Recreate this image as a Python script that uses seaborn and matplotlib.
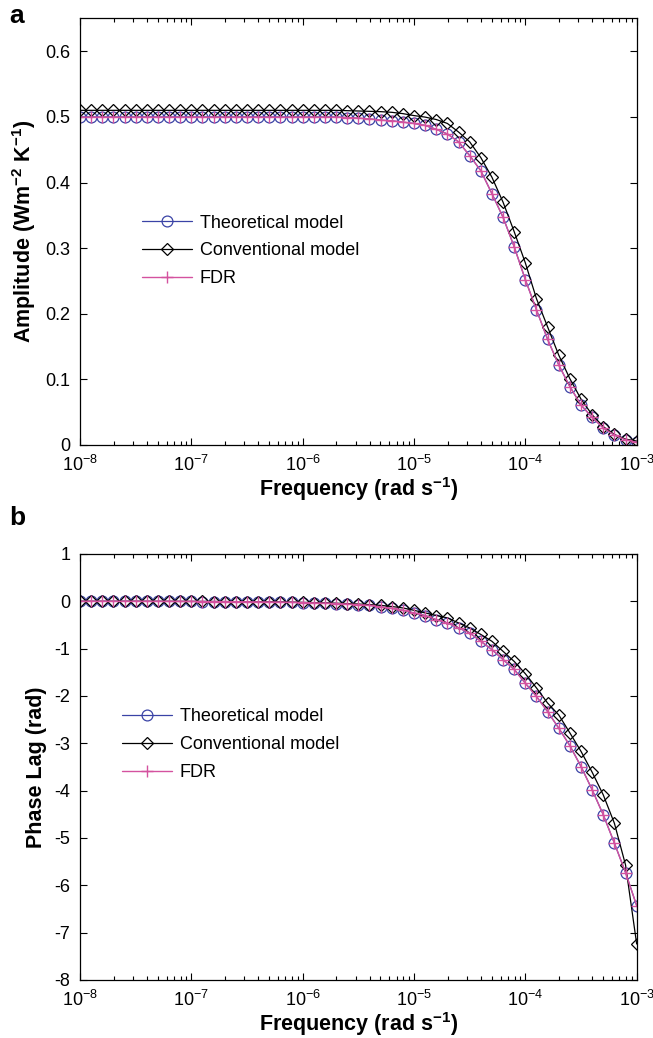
import numpy as np
import pandas as pd
import matplotlib
matplotlib.use("Agg")
import matplotlib.pyplot as plt
from matplotlib.ticker import LogLocator, FixedLocator, FixedFormatter, NullFormatter
import seaborn as sns

# ---------------- data ----------------
freq = np.logspace(-8, -3, 51)  # rad s^-1, 10 points per decade

amp_theoretical = [0.5] * 24 + [
    0.499, 0.498, 0.497, 0.495, 0.494, 0.492, 0.490, 0.487, 0.481, 0.474,
    0.462, 0.441, 0.418, 0.383, 0.347, 0.302, 0.252, 0.206, 0.161, 0.122,
    0.089, 0.061, 0.042, 0.026, 0.015, 0.008, 0.004]
amp_conventional = [0.51] * 24 + [
    0.5095, 0.509, 0.5085, 0.508, 0.507, 0.505, 0.502, 0.4997, 0.496, 0.490,
    0.477, 0.462, 0.438, 0.408, 0.370, 0.325, 0.2775, 0.223, 0.180, 0.137,
    0.101, 0.070, 0.046, 0.028, 0.016, 0.009, 0.006]
amp_fdr = [0.4995] * 24 + [
    0.499, 0.498, 0.497, 0.495, 0.494, 0.492, 0.490, 0.487, 0.481, 0.474,
    0.462, 0.441, 0.418, 0.383, 0.347, 0.302, 0.252, 0.206, 0.161, 0.122,
    0.089, 0.061, 0.042, 0.026, 0.015, 0.008, 0.004]

phase_theoretical = [0.0] * 6 + [
    -0.001, -0.001, -0.002, -0.002, -0.003,
    -0.004, -0.005, -0.006, -0.008, -0.010, -0.012, -0.015, -0.018, -0.022, -0.027,
    -0.033, -0.040, -0.048, -0.058, -0.070, -0.086, -0.12, -0.15, -0.19, -0.245,
    -0.300, -0.387, -0.457, -0.563, -0.668, -0.845, -1.02, -1.23, -1.44, -1.73,
    -2.01, -2.33, -2.68, -3.05, -3.49, -3.98, -4.51, -5.11, -5.73, -6.43]
phase_conventional = [0.0] * 6 + [
    -0.001, -0.001, -0.001, -0.002, -0.002,
    -0.003, -0.004, -0.005, -0.006, -0.008, -0.010, -0.012, -0.015, -0.018, -0.022,
    -0.027, -0.033, -0.040, -0.048, -0.058, -0.070, -0.085, -0.110, -0.14, -0.19,
    -0.245, -0.30, -0.35, -0.457, -0.563, -0.70, -0.845, -1.057, -1.27, -1.53,
    -1.83, -2.15, -2.40, -2.78, -3.17, -3.61, -4.09, -4.69, -5.57, -7.24]
phase_fdr = list(phase_theoretical)

series_labels = ["Theoretical model", "Conventional model", "FDR"]
amp_yticks = [0, 0.1, 0.2, 0.3, 0.4, 0.5, 0.6]
amp_yticklabels = ["0", "0.1", "0.2", "0.3", "0.4", "0.5", "0.6"]
phase_yticks = [1, 0, -1, -2, -3, -4, -5, -6, -7, -8]
phase_yticklabels = ["1", "0", "-1", "-2", "-3", "-4", "-5", "-6", "-7", "-8"]
x_ticks = [1e-8, 1e-7, 1e-6, 1e-5, 1e-4, 1e-3]
x_ticklabels = [r"$10^{-8}$", r"$10^{-7}$", r"$10^{-6}$", r"$10^{-5}$", r"$10^{-4}$", r"$10^{-3}$"]

for s in (amp_theoretical, amp_conventional, amp_fdr, phase_theoretical, phase_conventional, phase_fdr):
    assert len(s) == 51

# ---------------- style ----------------
sns.set_style("ticks")
plt.rcParams["font.family"] = ["Liberation Sans", "DejaVu Sans"]
plt.rcParams["mathtext.fontset"] = "custom"
plt.rcParams["mathtext.rm"] = "Liberation Sans"
plt.rcParams["mathtext.it"] = "Liberation Sans:italic"
plt.rcParams["mathtext.bf"] = "Liberation Sans:bold"
plt.rcParams["axes.unicode_minus"] = False
plt.rcParams["text.color"] = "black"
plt.rcParams["axes.labelcolor"] = "black"
plt.rcParams["xtick.color"] = "black"
plt.rcParams["ytick.color"] = "black"

col_theo = "#3a43a6"
col_conv = "#000000"
col_fdr = "#d4529f"

styles = [
    dict(color=col_theo, marker="o", markersize=7.8, markerfacecolor="none",
         markeredgecolor=col_theo, markeredgewidth=0.9, linewidth=0.9),
    dict(color=col_conv, marker="D", markersize=6.0, markerfacecolor="none",
         markeredgecolor=col_conv, markeredgewidth=0.9, linewidth=0.9),
    dict(color=col_fdr, marker="+", markersize=8.5, markeredgecolor=col_fdr,
         markeredgewidth=1.0, linewidth=1.0),
]

fig = plt.figure(figsize=(6.53, 10.38), dpi=100)
ax1 = fig.add_axes([0.1225, 0.5713, 0.8525, 0.4109])
ax2 = fig.add_axes([0.1225, 0.0559, 0.8525, 0.4104])

TICK_FS = 13
LEG_FS = 13
LAB_FS = 15.5


def draw(ax, ys, yticks, yticklabels, ylim, ylabel, legend_anchor):
    for vals, lab, st in zip(ys, series_labels, styles):
        df = pd.DataFrame({"freq": freq, "val": vals})
        sns.lineplot(data=df, x="freq", y="val", ax=ax, label=lab,
                     estimator=None, sort=True, **st)
    ax.set_xscale("log")
    ax.set_xlim(1e-8, 1e-3)
    ax.set_ylim(*ylim)
    ax.xaxis.set_major_locator(FixedLocator(x_ticks))
    ax.xaxis.set_major_formatter(FixedFormatter(x_ticklabels))
    ax.xaxis.set_minor_locator(LogLocator(base=10, subs=np.arange(2, 10), numticks=20))
    ax.xaxis.set_minor_formatter(NullFormatter())
    ax.yaxis.set_major_locator(FixedLocator(yticks))
    ax.yaxis.set_major_formatter(FixedFormatter(yticklabels))
    ax.tick_params(which="both", direction="in", top=True, right=True,
                   labelsize=TICK_FS, colors="black", width=0.8)
    ax.tick_params(which="major", length=5)
    ax.tick_params(which="minor", length=3)
    ax.tick_params(axis="x", which="major", pad=7)
    ax.tick_params(axis="y", which="major", pad=7)
    for sp in ax.spines.values():
        sp.set_visible(True)
        sp.set_linewidth(0.9)
        sp.set_color("black")
    ax.set_xlabel(r"Frequency (rad s$^{\mathbf{-1}}$)", fontsize=LAB_FS,
                  fontweight="bold", labelpad=0)
    ax.set_ylabel(ylabel, fontsize=LAB_FS, fontweight="bold", labelpad=5)
    ax.grid(False)
    leg = ax.legend(loc="center left", bbox_to_anchor=legend_anchor, frameon=False,
                    fontsize=LEG_FS, handlelength=2.8, handletextpad=0.4,
                    labelspacing=0.6, borderpad=0, borderaxespad=0)
    for t in leg.get_texts():
        t.set_color("black")


draw(ax1, [amp_theoretical, amp_conventional, amp_fdr], amp_yticks, amp_yticklabels,
     (0, 0.65), r"Amplitude (Wm$^{\mathbf{-2}}$ K$^{\mathbf{-1}}$)", (0.111, 0.455))
draw(ax2, [phase_theoretical, phase_conventional, phase_fdr], phase_yticks, phase_yticklabels,
     (-8, 1), "Phase Lag (rad)", (0.075, 0.552))

fig.text(0.014, 0.985, "a", fontsize=19, fontweight="bold", va="center", ha="left")
fig.text(0.014, 0.501, "b", fontsize=19, fontweight="bold", va="center", ha="left")

fig.savefig("out.png", dpi=100)
